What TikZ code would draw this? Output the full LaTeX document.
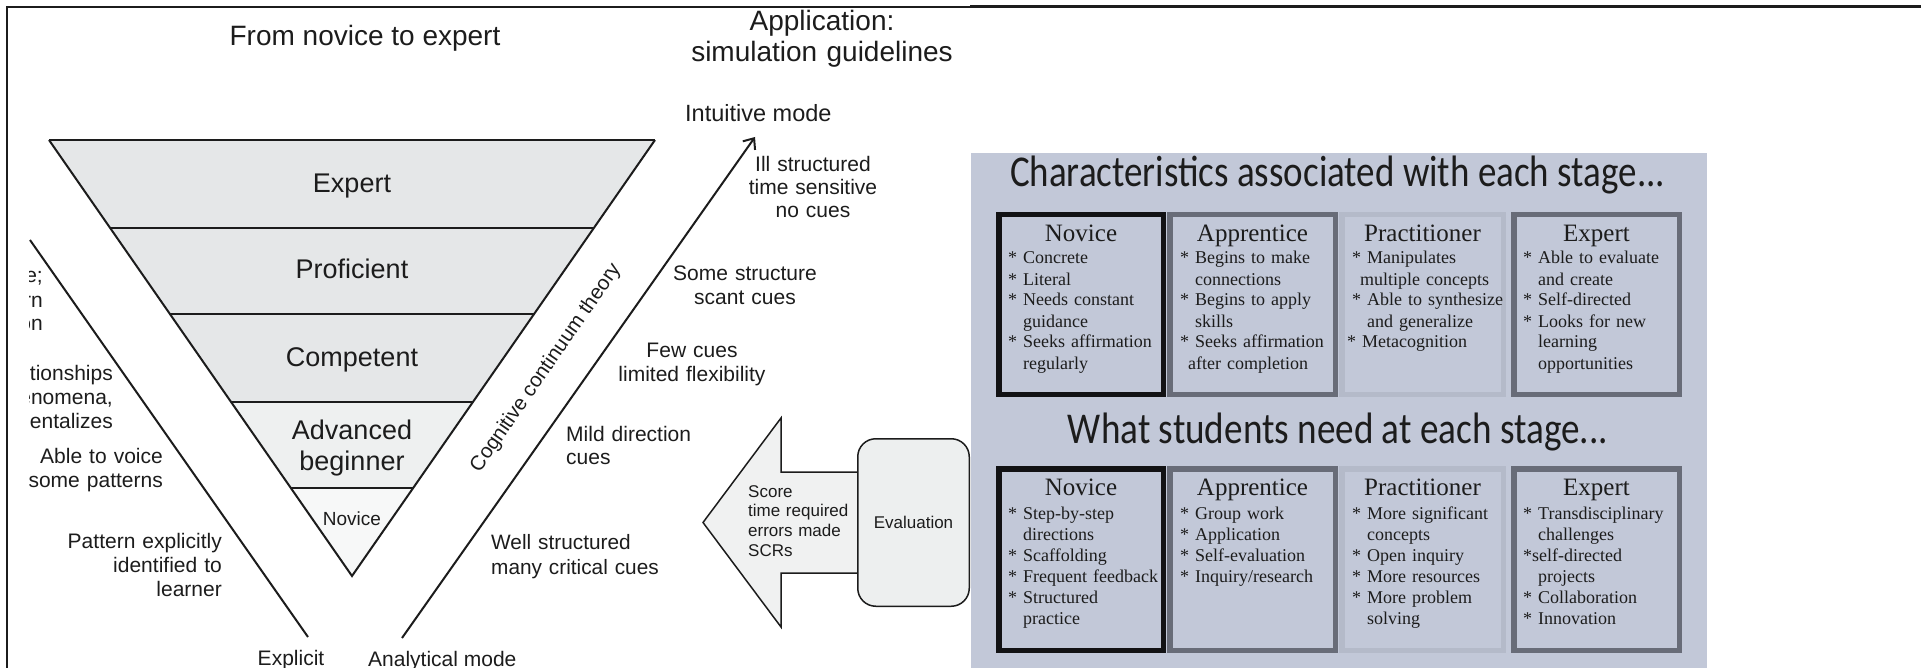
\documentclass[tikz,border=0pt]{standalone}
\usepackage{fontspec}
\usepackage{graphicx}
\setmainfont{Liberation Sans}
\newfontfamily\boxfont{Liberation Serif}
\newfontfamily\titlefont{Carlito}
\usetikzlibrary{arrows.meta}

\definecolor{ink}{RGB}{28,28,28}
\definecolor{panelbg}{RGB}{194,200,216}
\definecolor{bandA}{RGB}{229,231,232}
\definecolor{bandB}{RGB}{238,240,240}
\definecolor{bandC}{RGB}{247,248,248}
\definecolor{arrowbg}{RGB}{240,241,241}
\definecolor{evalbg}{RGB}{237,239,239}
\definecolor{rimblack}{RGB}{18,18,20}
\definecolor{rimdark}{RGB}{104,108,120}
\definecolor{rimlight}{RGB}{180,186,201}

% bullet line and its continuation line
\newcommand\stitem[1]{\mbox{*}\ #1}
\newcommand\stcont[1]{\hphantom{*\ }#1}

\tikzset{
  txt/.style={inner sep=0pt, text=ink},
  headtext/.style={txt, font=\fontsize{28}{31}\selectfont, anchor=base},
  sidetext/.style={txt, font=\fontsize{21}{24}\selectfont},
  stagetext/.style={txt, font=\fontsize{27}{31}\selectfont, anchor=base},
  paneltitle/.style={txt, font=\titlefont\fontsize{44}{44}\selectfont, anchor=base},
  colhead/.style={txt, font=\boxfont\fontsize{25}{25}\selectfont, anchor=base},
  itemlist/.style={txt, font=\boxfont\fontsize{18}{21}\selectfont, anchor=base west, text width=152pt, align=left},
  stagebox/.style={draw=#1, line width=5.5pt, inner sep=0pt},
  thinrule/.style={draw=ink, line width=2pt},
}

\begin{document}
\begin{tikzpicture}[x=1pt,y=-1pt]
\useasboundingbox (0,0) rectangle (1921,668);

% frame
\draw[ink, line width=2pt] (7,668) -- (7,7) -- (970,7);
\draw[ink, line width=3pt] (970,7) -- (1921,7);

% ---------- From novice to expert ----------
\node[headtext] (h-left) at (365,46) {From novice to expert};
\node[headtext, text width=264pt, align=center] (h-right) at (822,31) {Application:\\simulation guidelines};

% inverted triangle of stages
\coordinate (T-L) at (49,140);
\coordinate (T-R) at (655,140);
\coordinate (apex) at (352,576);
\begin{scope}
  \clip (T-L) -- (T-R) -- (apex) -- cycle;
  \fill[bandA] (0,140) rectangle (700,402);
  \fill[bandB] (0,402) rectangle (700,488);
  \fill[bandC] (0,488) rectangle (700,580);
  \foreach \yy in {228,314,402,488}
    \draw[ink, line width=2.5pt] (0,\yy) -- (700,\yy);
\end{scope}
\draw[thinrule, line width=2.5pt] (T-L) -- (T-R);
\draw[thinrule] (T-L) -- (apex) -- (T-R);

\node[stagetext] (s-exp) at (352,193) {Expert};
\node[stagetext] (s-pro) at (352,279) {Proficient};
\node[stagetext] (s-com) at (352,366) {Competent};
\node[stagetext, text width=124pt, align=center] (s-adv) at (352,439) {Advanced\\beginner};
\node[stagetext, font=\fontsize{19}{19}\selectfont] (s-nov) at (352,525) {Novice};

% explicit side
\coordinate (ex-top) at (30,240);
\coordinate (ex-bot) at (308,637);
\draw[thinrule] (ex-top) -- (ex-bot);

% analytical to intuitive axis
\coordinate (an-bot) at (402,638);
\coordinate (in-top) at (755,137);
\draw[thinrule, -{Straight Barb[length=9pt,width=15pt,line width=2pt]}] (an-bot) -- (in-top);

\node[txt, font=\fontsize{20.5}{20.5}\selectfont, rotate=55.3] (cct) at (546,368) {Cognitive continuum theory};

% left hand labels, cut at the picture edge
\begin{scope}
  \clip (29,0) rectangle (700,668);
  \node[sidetext, anchor=base east] (l-a1) at (43,283) {e;};
  \node[sidetext, anchor=base east] (l-a2) at (43,307) {rn};
  \node[sidetext, anchor=base east] (l-a3) at (43,330) {on};
  \node[sidetext, anchor=base east, text width=96pt, align=right] (l-b) at (113,380) {tionships\\enomena,\\entalizes};
\end{scope}
\node[sidetext, anchor=base east, text width=136pt, align=right] (l-c) at (163,463) {Able to voice\\some patterns};
\node[sidetext, anchor=base east, text width=156pt, align=right] (l-d) at (222,548) {Pattern explicitly\\identified to\\learner};
\node[sidetext, anchor=base] (l-explicit) at (291,665) {Explicit};

% right hand labels
\node[txt, font=\fontsize{23.5}{23.5}\selectfont, anchor=base west] (r-int) at (685,122) {Intuitive mode};
\node[sidetext, text width=130pt, align=center, anchor=base, font=\fontsize{21}{23}\selectfont] (r-a) at (813,172) {Ill structured\\time sensitive\\no cues};
\node[sidetext, text width=146pt, align=center, anchor=base] (r-b) at (745,280) {Some structure\\scant cues};
\node[sidetext, text width=156pt, align=center, anchor=base] (r-c) at (692,357) {Few cues\\limited flexibility};
\node[sidetext, text width=128pt, align=left, anchor=base west, font=\fontsize{21}{23}\selectfont] (r-d) at (566,441) {Mild direction\\cues};
\node[sidetext, text width=168pt, align=left, anchor=base west, font=\fontsize{20.8}{25}\selectfont] (r-e) at (491,549) {Well structured\\many critical cues};
\node[sidetext, anchor=base west] (r-ana) at (368,666) {Analytical mode};

% evaluation feeding back into the guidelines
\draw[ink, line width=1.5pt, fill=arrowbg, line join=miter]
  (857,472) -- (781,472) -- (781,418) -- (703,522.5) -- (781,627) -- (781,573) -- (857,573);
\node[txt, font=\fontsize{17}{19.7}\selectfont, anchor=base west, text width=102pt, align=left] (scores) at (748,497) {Score\\time required\\errors made\\SCRs};
\node[draw=ink, line width=1.5pt, fill=evalbg, rounded corners=18pt, minimum width=111.5pt, minimum height=167.5pt, font=\fontsize{17}{17}\selectfont, text=ink] (eval) at (913.5,522.5) {Evaluation};

% ---------- stage panel ----------
\fill[panelbg] (971,153) rectangle (1707,668);

\node[paneltitle] (t-char) at (1337.5,187) {\resizebox{655pt}{\height}{Characteristics associated with each stage...}};
\node[paneltitle] (t-need) at (1338,443) {\resizebox{540pt}{\height}{What students need at each stage...}};

% upper row frames
\node[stagebox=rimblack, minimum width=164.5pt, minimum height=179.5pt] (c-nov) at (1081,304.5) {};
\node[stagebox=rimdark, minimum width=165.5pt, minimum height=179.5pt] (c-app) at (1252.5,304.5) {};
\node[stagebox=rimlight, minimum width=161.5pt, minimum height=179.5pt] (c-pra) at (1422.5,304.5) {};
\node[stagebox=rimdark, minimum width=165.5pt, minimum height=179.5pt] (c-exp) at (1596.5,304.5) {};

% lower row frames
\node[stagebox=rimblack, minimum width=164.5pt, minimum height=181.5pt] (n-nov) at (1081,559.5) {};
\node[stagebox=rimdark, minimum width=165.5pt, minimum height=181.5pt] (n-app) at (1252.5,559.5) {};
\node[stagebox=rimlight, minimum width=161.5pt, minimum height=181.5pt] (n-pra) at (1422.5,559.5) {};
\node[stagebox=rimdark, minimum width=165.5pt, minimum height=181.5pt] (n-exp) at (1596.5,559.5) {};

% upper row headings and lists
\node[colhead] (c-nov-h) at (1081,242) {Novice};
\node[colhead] (c-app-h) at (1252.5,242) {Apprentice};
\node[colhead] (c-pra-h) at (1422.5,242) {Practitioner};
\node[colhead] (c-exp-h) at (1596.5,242) {Expert};

\node[itemlist] (c-nov-l) at (1008,264) {\stitem{Concrete}\\\stitem{Literal}\\\stitem{Needs constant}\\\stcont{guidance}\\\stitem{Seeks affirmation}\\\stcont{regularly}};
\node[itemlist] (c-app-l) at (1180,264) {\stitem{Begins to make}\\\stcont{connections}\\\stitem{Begins to apply}\\\stcont{skills}\\\stitem{Seeks affirmation}\\\hspace*{8pt}after completion};
\node[itemlist] (c-pra-l) at (1352,264) {\stitem{Manipulates}\\\hspace*{8pt}multiple concepts\\\stitem{Able to synthesize}\\\stcont{and generalize}\\\hspace*{-5pt}\stitem{Metacognition}};
\node[itemlist] (c-exp-l) at (1523,264) {\stitem{Able to evaluate}\\\stcont{and create}\\\stitem{Self-directed}\\\stitem{Looks for new}\\\stcont{learning}\\\stcont{opportunities}};

% lower row headings and lists
\node[colhead] (n-nov-h) at (1081,495) {Novice};
\node[colhead] (n-app-h) at (1252.5,495) {Apprentice};
\node[colhead] (n-pra-h) at (1422.5,495) {Practitioner};
\node[colhead] (n-exp-h) at (1596.5,495) {Expert};

\node[itemlist] (n-nov-l) at (1008,519) {\stitem{Step-by-step}\\\stcont{directions}\\\stitem{Scaffolding}\\\stitem{Frequent feedback}\\\stitem{Structured}\\\stcont{practice}};
\node[itemlist] (n-app-l) at (1180,519) {\stitem{Group work}\\\stitem{Application}\\\stitem{Self-evaluation}\\\stitem{Inquiry/research}};
\node[itemlist] (n-pra-l) at (1352,519) {\stitem{More significant}\\\stcont{concepts}\\\stitem{Open inquiry}\\\stitem{More resources}\\\stitem{More problem}\\\stcont{solving}};
\node[itemlist] (n-exp-l) at (1523,519) {\stitem{Transdisciplinary}\\\stcont{challenges}\\\mbox{*}self-directed\\\stcont{projects}\\\stitem{Collaboration}\\\stitem{Innovation}};

\end{tikzpicture}
\end{document}
